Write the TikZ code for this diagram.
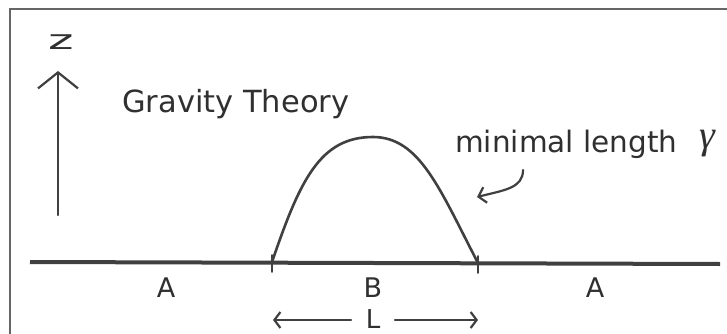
\documentclass[tikz,border=0pt]{standalone}
\usepackage{fontspec}
\setmainfont{DejaVu Sans}
\newfontfamily\widefont[FakeStretch=1.8]{DejaVu Sans}
\newfontfamily\greekfont{Liberation Serif}
\usetikzlibrary{arrows.meta}
\definecolor{ink}{HTML}{404040}
\definecolor{txt}{HTML}{303030}
\begin{document}
\begin{tikzpicture}[x=1pt,y=-1pt,
  frame/.style={draw=gray!80!black,line width=1.2pt},
  stroke/.style={draw=ink,line width=2.6pt,line cap=round},
  thin/.style={draw=ink,line width=2.2pt,line cap=round},
  lbl/.style={text=txt,inner sep=0pt,font=\fontsize{27}{29}\selectfont},
  small/.style={text=txt,inner sep=0pt,font=\fontsize{29.5}{32}\selectfont}]
\useasboundingbox (0,0) rectangle (727,334);
\fill[white] (0,0) rectangle (727,334);
% frame
\draw[frame] (727,9) -- (10,9) -- (10,334);
% z axis
\coordinate (zb) at (58,215);
\coordinate (zt) at (58,71);
\draw[thin,-{Straight Barb[length=16pt,width=40pt,line width=2.2pt]}] (zb) -- (zt);
\node[text=txt,inner sep=0pt,font=\widefont\fontsize{27}{29}\selectfont,anchor=base] (z) at (61,50) {z};
\node[small,anchor=base west,font=\fontsize{30.5}{32}\selectfont] (grav) at (122,112) {Gravity Theory};
% baseline
\coordinate (b0) at (30,262);
\coordinate (b1) at (720,264);
\draw[draw=ink,line width=4pt] (b0) -- (b1);
\coordinate (p1) at (272,262);
\coordinate (p2) at (478,263);
\draw[thin,line width=1.6pt] (272,255) -- (272,272);
\draw[thin,line width=1.6pt] (478,256) -- (478,273);
% bump
\coordinate (top) at (373,137);
\draw[stroke] (p1) .. controls (300,180) and (320,137) .. (top)
   .. controls (420,137) and (440,190) .. (p2);
% minimal length
\node[small,anchor=base west] (ml) at (455,152) {minimal length};
\node[inner sep=0pt,font=\greekfont\itshape\fontsize{40}{42}\selectfont,text=txt,anchor=base] (gam) at (707,148) {γ};
\coordinate (cs) at (523,170);
\coordinate (ce) at (477,197);
\draw[thin,-{Straight Barb[length=7pt,width=16pt,line width=2.2pt]}] (cs) .. controls (523,188) and (505,190) .. (ce);
% labels
\node[lbl] (A1) at (166,288) {A};
\node[lbl] (B) at (373,288) {B};
\node[lbl] (A2) at (595,288) {A};
\node[lbl,anchor=base,font=\fontsize{26}{28}\selectfont] (L) at (373,328) {L};
\coordinate (la) at (273,320);
\coordinate (ra) at (478,320);
\draw[thin,-{Straight Barb[length=6pt,width=16pt,line width=2.2pt]}] (351,320) -- (la);
\draw[thin,-{Straight Barb[length=6pt,width=16pt,line width=2.2pt]}] (395,320) -- (ra);
\end{tikzpicture}
\end{document}
